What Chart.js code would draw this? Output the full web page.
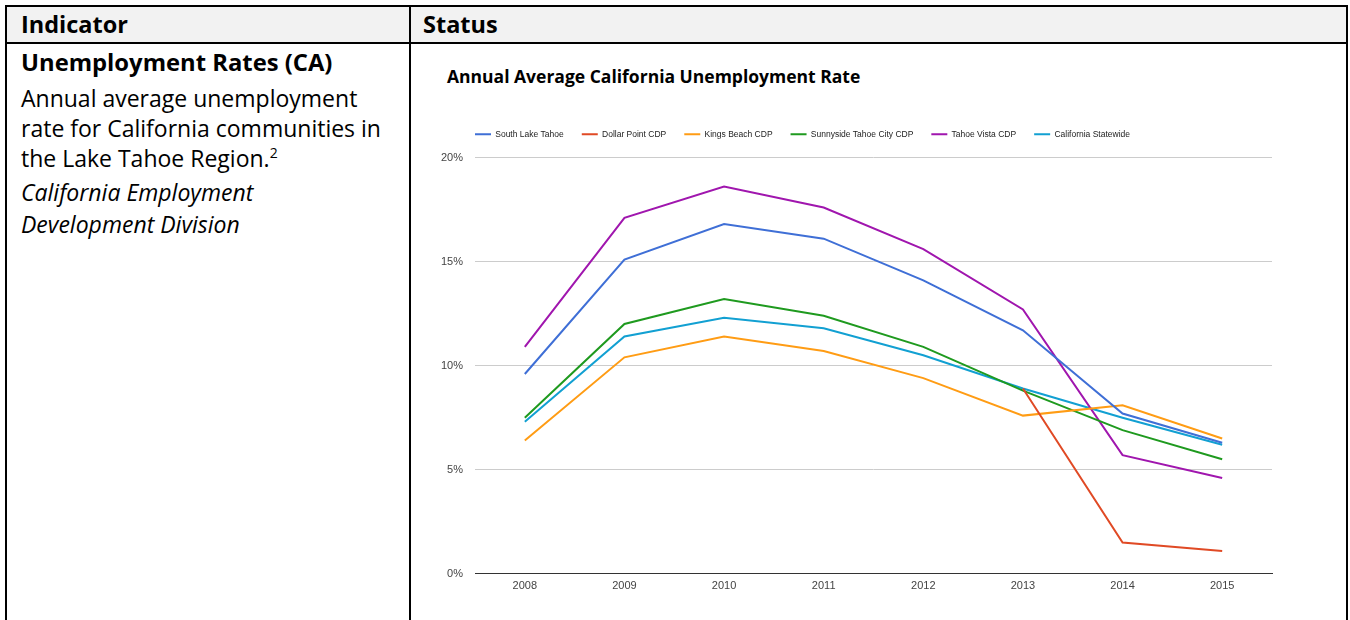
<!DOCTYPE html>
<html>
<head>
<meta charset="utf-8">
<title>Unemployment Rates (CA)</title>
<script src="https://cdn.jsdelivr.net/npm/chart.js@4.4.1/dist/chart.umd.min.js"></script>
<style>
  body { margin: 0; background: #fff; font-family: "Open Sans", Lato, sans-serif; color: #000; }
  .frame { position: absolute; left: 5px; top: 5px; width: 1339px; height: 620px; border: 2px solid #000; border-bottom: none; }
  .head { position: absolute; left: 0; top: 0; width: 100%; height: 35px; background: #f2f2f2; border-bottom: 2px solid #000; }
  .divider { position: absolute; left: 402px; top: 0; bottom: 0; width: 2px; background: #000; }
  .th { position: absolute; top: 2px; line-height: 31px; font-weight: bold; font-size: 23.5px; white-space: nowrap; }
  .ln { position: absolute; left: 14px; height: 31.5px; line-height: 31.5px; font-size: 23px; white-space: nowrap; }
  .ln.big { font-weight: bold; font-size: 23.8px; }
  .ln sup { font-size: 14px; line-height: 0; vertical-align: 9px; }
  .chart-title { position: absolute; left: 447px; top: 66px; font-weight: bold; font-size: 17.5px; line-height: 20px; white-space: nowrap; }
  #box { position: absolute; left: 430px; top: 105px; width: 916px; height: 515px; }
</style>
</head>
<body>
<div class="frame">
  <div class="head"></div>
  <div class="th" style="left:14px">Indicator</div>
  <div class="th" style="left:416px">Status</div>
  <div class="divider"></div>
  <div class="ln big" style="top:40px">Unemployment Rates (CA)</div>
  <div class="ln" style="top:76px">Annual average unemployment</div>
  <div class="ln" style="top:106px">rate for California communities in</div>
  <div class="ln" style="top:136px">the Lake Tahoe Region.<sup>2</sup></div>
  <div class="ln" style="top:170px"><i>California Employment</i></div>
  <div class="ln" style="top:202px"><i>Development Division</i></div>
</div>
<div class="chart-title">Annual Average California Unemployment Rate</div>
<div id="box"><canvas id="rateChart"></canvas></div>

<script>
const years = ["2008", "2009", "2010", "2011", "2012", "2013", "2014", "2015"];
const southLakeTahoe = [9.6, 15.1, 16.8, 16.1, 14.1, 11.7, 7.7, 6.3];
const dollarPoint = [null, null, null, null, null, 8.9, 1.5, 1.1];
const kingsBeach = [6.4, 10.4, 11.4, 10.7, 9.4, 7.6, 8.1, 6.5];
const sunnyside = [7.5, 12.0, 13.2, 12.4, 10.9, 8.8, 6.9, 5.5];
const tahoeVista = [10.9, 17.1, 18.6, 17.6, 15.6, 12.7, 5.7, 4.6];
const statewide = [7.3, 11.4, 12.3, 11.8, 10.5, 8.9, 7.5, 6.2];
const yTicks = [0, 5, 10, 15, 20];

function line(label, data, color) {
  return {
    label: label,
    data: data,
    borderColor: color,
    backgroundColor: color,
    borderWidth: 2,
    pointRadius: 0,
    tension: 0,
    fill: false
  };
}

// legend sits a bit apart from the plot and starts where the plot starts
const legendPlace = {
  id: "legendPlace",
  afterInit(chart) {
    const fit = chart.legend.fit;
    chart.legend.fit = function () {
      fit.call(this);
      this.height += 9;
    };
  },
  afterLayout(chart) {
    chart.legend.left = chart.chartArea.left - 18;
  }
};

const ctx = document.getElementById("rateChart").getContext("2d");

new Chart(ctx, {
  type: "line",
  data: {
    labels: years,
    datasets: [
      line("South Lake Tahoe", southLakeTahoe, "#3f6fd6"),
      line("Dollar Point CDP", dollarPoint, "#e04a25"),
      line("Kings Beach CDP", kingsBeach, "#ff9c14"),
      line("Sunnyside Tahoe City CDP", sunnyside, "#1f9a1f"),
      line("Tahoe Vista CDP", tahoeVista, "#a016ae"),
      line("California Statewide", statewide, "#12a0d2")
    ]
  },
  options: {
    responsive: true,
    maintainAspectRatio: false,
    animation: false,
    layout: { padding: { left: 9, right: 74, top: 7, bottom: 21 } },
    plugins: {
      tooltip: { enabled: false },
      legend: {
        position: "top",
        align: "start",
        labels: {
          boxWidth: 16,
          boxHeight: 2,
          padding: 18,
          color: "#222",
          font: { family: "'Liberation Sans', Arial, sans-serif", size: 8.5 },
          generateLabels: function (chart) {
            const items = Chart.defaults.plugins.legend.labels.generateLabels(chart);
            items.forEach(function (it) { it.lineWidth = 0; });
            return items;
          }
        }
      }
    },
    scales: {
      x: {
        offset: true,
        grid: { display: false, drawTicks: false, tickLength: 0 },
        border: { display: true, color: "#333", width: 1 },
        ticks: {
          padding: 6,
          color: "#444",
          font: { family: "'Liberation Sans', Arial, sans-serif", size: 11 }
        }
      },
      y: {
        min: 0,
        max: 20,
        afterFit: function (scale) { scale.width = 36; },
        afterBuildTicks: function (scale) {
          scale.ticks = yTicks.map(function (v) { return { value: v }; });
        },
        grid: { color: "#cccccc", drawTicks: false },
        border: { display: false },
        ticks: {
          padding: 12,
          color: "#444",
          font: { family: "'Liberation Sans', Arial, sans-serif", size: 11 },
          callback: function (v) { return v + "%"; }
        }
      }
    }
  },
  plugins: [legendPlace]
});
</script>
</body>
</html>
